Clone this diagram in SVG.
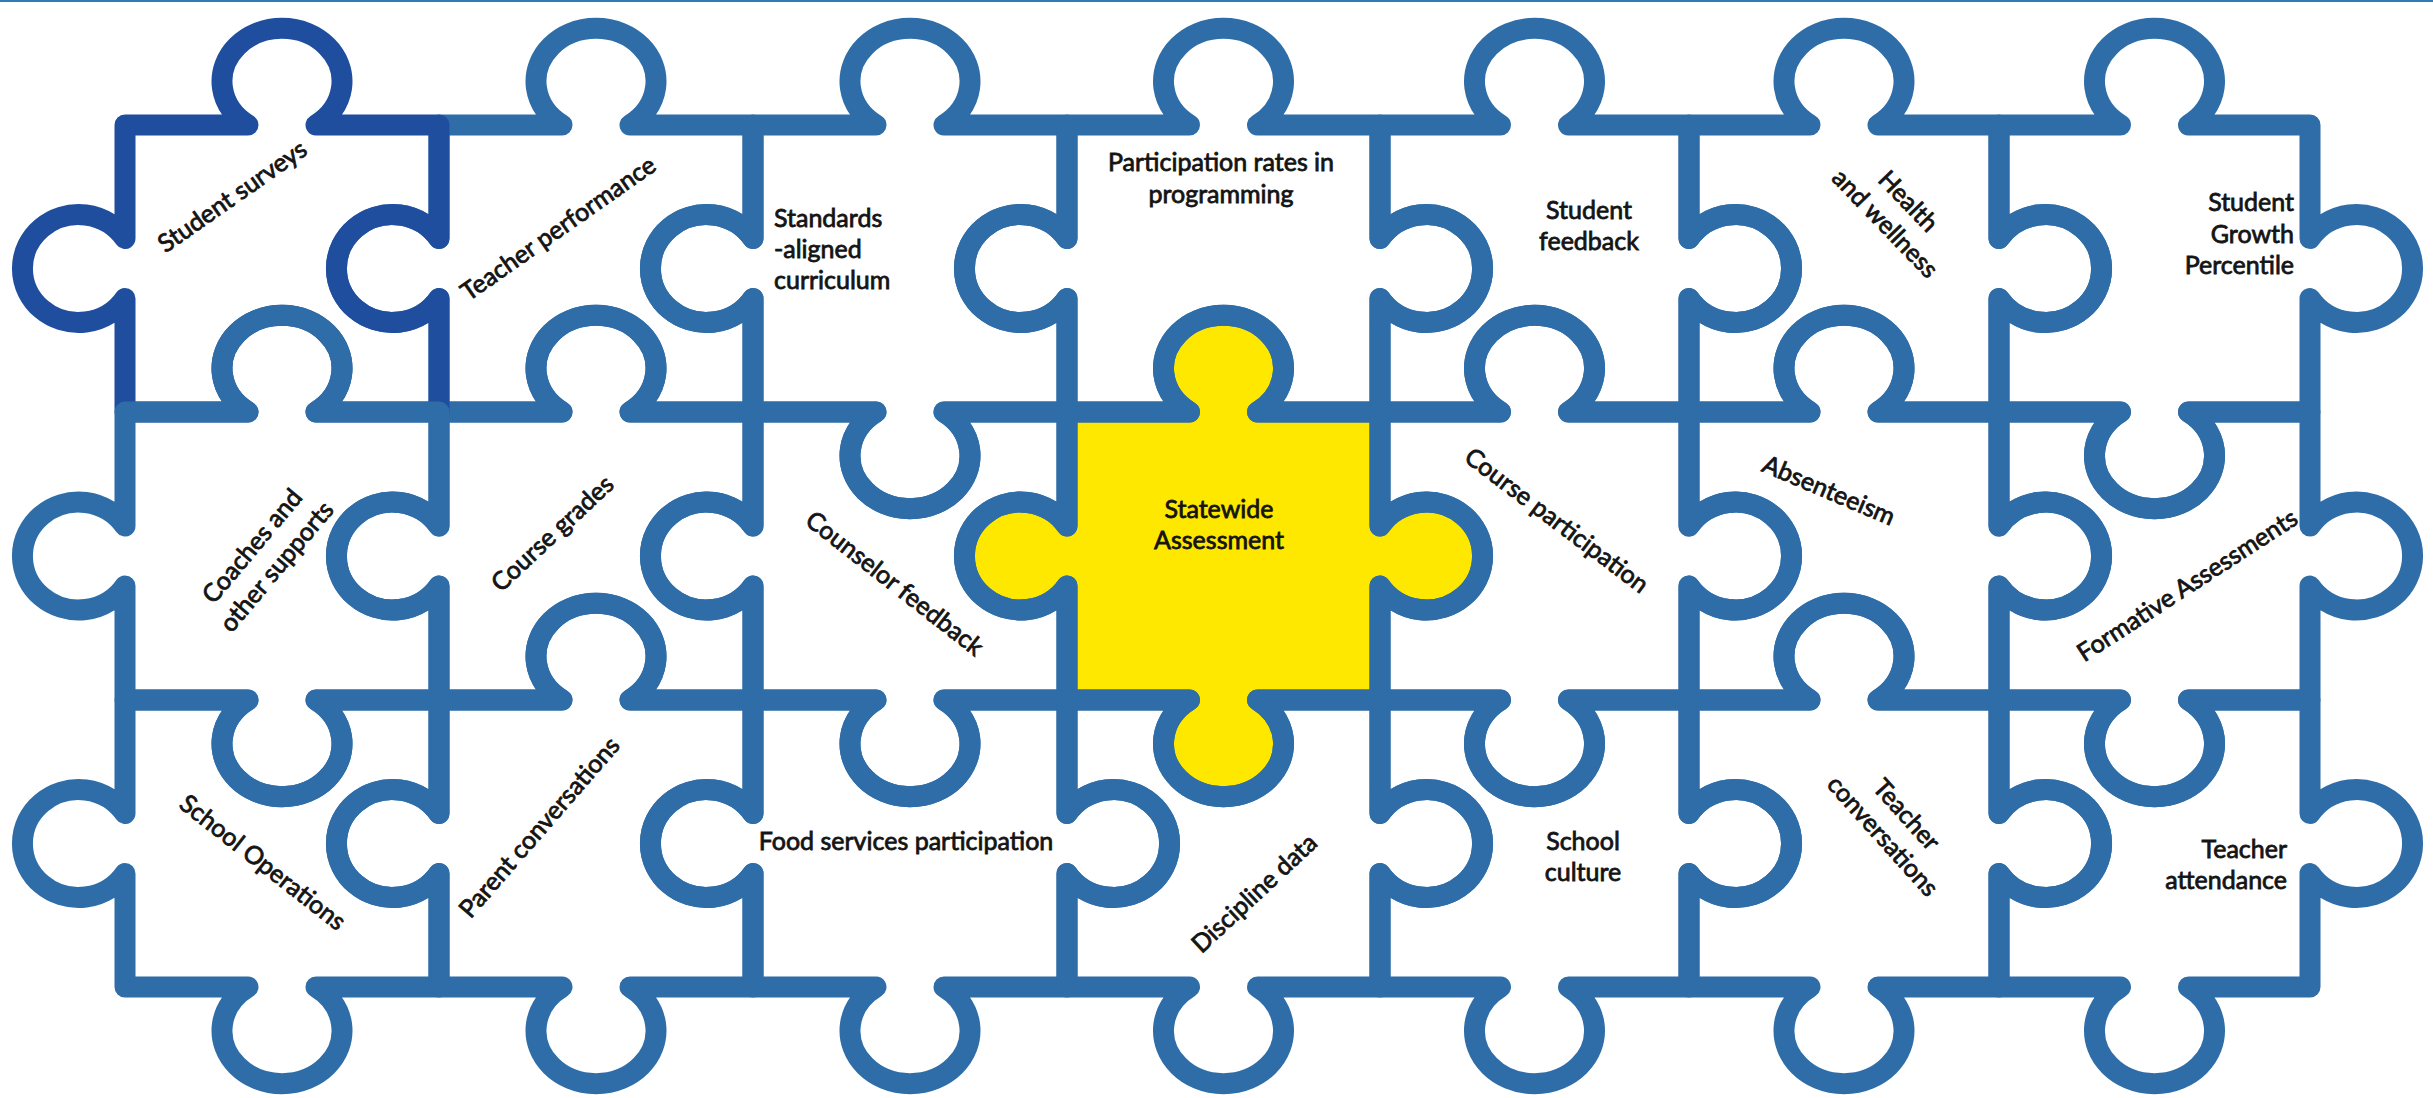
<svg xmlns="http://www.w3.org/2000/svg" width="2433" height="1098" viewBox="0 0 2433 1098">
<style>
.pc{fill:none;stroke:#2E6DA8;stroke-width:21;stroke-linejoin:round;stroke-linecap:round}
.dk{stroke:#1F4E9F}
.yl{fill:#FFE800}
.t{font-family:Lato,"Liberation Sans",sans-serif;font-size:25px;fill:#141414;stroke:#141414;stroke-width:0.8px}
.m{text-anchor:middle}
.e{text-anchor:end}
</style>
<rect x="0" y="0" width="2433" height="1098" fill="#ffffff"/>
<rect x="0" y="0" width="2433" height="2" fill="#2E7BB8"/>
<g id="connectors"></g>
<g id="n-statewide">
<path class="pc yl" d="M1067 412 H1189.5 A60 53 0 1 1 1257.5 412 H1380 V526 A56 54 0 1 1 1380 586 V700 H1257.5 A60 53 0 1 1 1189.5 700 H1067 V586 A56 54 0 1 1 1067 526 Z"/>
<text class="t m" x="1219" y="518">Statewide</text>
<text class="t m" x="1219" y="549">Assessment</text>
</g>
<g id="n-teacher-performance">
<path class="pc" d="M439 125 H562 A60 53 0 1 1 630 125 H753 V238.5 A56 54 0 1 0 753 298.5 V412 H630 A60 53 0 1 0 562 412 H439 V298.5 A56 54 0 1 1 439 238.5 Z"/>
<text class="t m" transform="translate(558,228) rotate(-35)" x="0" y="9">Teacher performance</text>
</g>
<g id="n-standards">
<path class="pc" d="M753 125 H876 A60 53 0 1 1 944 125 H1067 V238.5 A56 54 0 1 0 1067 298.5 V412 H944 A60 53 0 1 1 876 412 H753 V298.5 A56 54 0 1 1 753 238.5 Z"/>
<text class="t" x="774" y="227">Standards</text>
<text class="t" x="774" y="258">-aligned</text>
<text class="t" x="774" y="289">curriculum</text>
</g>
<g id="n-participation">
<path class="pc" d="M1067 125 H1189.5 A60 53 0 1 1 1257.5 125 H1380 V238.5 A56 54 0 1 1 1380 298.5 V412 H1257.5 A60 53 0 1 0 1189.5 412 H1067 V298.5 A56 54 0 1 1 1067 238.5 Z"/>
<text class="t m" x="1221" y="171">Participation rates in</text>
<text class="t m" x="1221" y="203">programming</text>
</g>
<g id="n-student-feedback">
<path class="pc" d="M1380 125 H1500.5 A60 53 0 1 1 1568.5 125 H1689 V238.5 A56 54 0 1 1 1689 298.5 V412 H1568.5 A60 53 0 1 0 1500.5 412 H1380 V298.5 A56 54 0 1 0 1380 238.5 Z"/>
<text class="t m" x="1589" y="219">Student</text>
<text class="t m" x="1589" y="250">feedback</text>
</g>
<g id="n-health">
<path class="pc" d="M1689 125 H1810 A60 53 0 1 1 1878 125 H1999 V238.5 A56 54 0 1 1 1999 298.5 V412 H1878 A60 53 0 1 0 1810 412 H1689 V298.5 A56 54 0 1 0 1689 238.5 Z"/>
<g transform="translate(1897,212) rotate(46)">
<text class="t m" x="0" y="-7">Health</text>
<text class="t m" x="0" y="25">and wellness</text>
</g>
</g>
<g id="n-sgp">
<path class="pc" d="M1999 125 H2120.5 A60 53 0 1 1 2188.5 125 H2310 V238.5 A56 54 0 1 1 2310 298.5 V412 H2188.5 A60 53 0 1 1 2120.5 412 H1999 V298.5 A56 54 0 1 0 1999 238.5 Z"/>
<text class="t e" x="2294" y="211">Student</text>
<text class="t e" x="2294" y="243">Growth</text>
<text class="t e" x="2294" y="274">Percentile</text>
</g>
<g id="n-course-grades">
<path class="pc" d="M439 412 H562 A60 53 0 1 1 630 412 H753 V526 A56 54 0 1 0 753 586 V700 H630 A60 53 0 1 0 562 700 H439 V586 A56 54 0 1 1 439 526 Z"/>
<text class="t m" transform="translate(552,533) rotate(-43)" x="0" y="9">Course grades</text>
</g>
<g id="n-counselor">
<path class="pc" d="M753 412 H876 A60 53 0 1 0 944 412 H1067 V526 A56 54 0 1 0 1067 586 V700 H944 A60 53 0 1 1 876 700 H753 V586 A56 54 0 1 1 753 526 Z"/>
<text class="t m" transform="translate(895,583) rotate(38)" x="0" y="9">Counselor feedback</text>
</g>
<g id="n-course-participation">
<path class="pc" d="M1380 412 H1500.5 A60 53 0 1 1 1568.5 412 H1689 V526 A56 54 0 1 1 1689 586 V700 H1568.5 A60 53 0 1 1 1500.5 700 H1380 V586 A56 54 0 1 0 1380 526 Z"/>
<text class="t m" transform="translate(1557,520) rotate(37)" x="0" y="9">Course participation</text>
</g>
<g id="n-absenteeism">
<path class="pc" d="M1689 412 H1810 A60 53 0 1 1 1878 412 H1999 V526 A56 54 0 1 1 1999 586 V700 H1878 A60 53 0 1 0 1810 700 H1689 V586 A56 54 0 1 0 1689 526 Z"/>
<text class="t m" transform="translate(1829,490) rotate(23)" x="0" y="9">Absenteeism</text>
</g>
<g id="n-formative">
<path class="pc" d="M1999 412 H2120.5 A60 53 0 1 0 2188.5 412 H2310 V526 A56 54 0 1 1 2310 586 V700 H2188.5 A60 53 0 1 1 2120.5 700 H1999 V586 A56 54 0 1 0 1999 526 Z"/>
<text class="t m" transform="translate(2187,585) rotate(-33)" x="0" y="9">Formative Assessments</text>
</g>
<g id="n-school-operations">
<path class="pc" d="M125 700 H248 A60 53 0 1 0 316 700 H439 V813.5 A56 54 0 1 0 439 873.5 V987 H316 A60 53 0 1 1 248 987 H125 V873.5 A56 54 0 1 1 125 813.5 Z"/>
<text class="t m" transform="translate(263,862) rotate(38)" x="0" y="9">School Operations</text>
</g>
<g id="n-parent">
<path class="pc" d="M439 700 H562 A60 53 0 1 1 630 700 H753 V813.5 A56 54 0 1 0 753 873.5 V987 H630 A60 53 0 1 1 562 987 H439 V873.5 A56 54 0 1 1 439 813.5 Z"/>
<text class="t m" transform="translate(539,827) rotate(-49)" x="0" y="9">Parent conversations</text>
</g>
<g id="n-food">
<path class="pc" d="M753 700 H876 A60 53 0 1 0 944 700 H1067 V813.5 A56 54 0 1 1 1067 873.5 V987 H944 A60 53 0 1 1 876 987 H753 V873.5 A56 54 0 1 1 753 813.5 Z"/>
<text class="t m" x="906" y="850">Food services participation</text>
</g>
<g id="n-discipline">
<path class="pc" d="M1067 700 H1189.5 A60 53 0 1 0 1257.5 700 H1380 V813.5 A56 54 0 1 1 1380 873.5 V987 H1257.5 A60 53 0 1 1 1189.5 987 H1067 V873.5 A56 54 0 1 0 1067 813.5 Z"/>
<text class="t m" transform="translate(1254,893) rotate(-43)" x="0" y="9">Discipline data</text>
</g>
<g id="n-school-culture">
<path class="pc" d="M1380 700 H1500.5 A60 53 0 1 0 1568.5 700 H1689 V813.5 A56 54 0 1 1 1689 873.5 V987 H1568.5 A60 53 0 1 1 1500.5 987 H1380 V873.5 A56 54 0 1 0 1380 813.5 Z"/>
<text class="t m" x="1583" y="850">School</text>
<text class="t m" x="1583" y="881">culture</text>
</g>
<g id="n-teacher-conversations">
<path class="pc" d="M1689 700 H1810 A60 53 0 1 1 1878 700 H1999 V813.5 A56 54 0 1 1 1999 873.5 V987 H1878 A60 53 0 1 1 1810 987 H1689 V873.5 A56 54 0 1 0 1689 813.5 Z"/>
<g transform="translate(1895,825) rotate(48)">
<text class="t m" x="0" y="-7">Teacher</text>
<text class="t m" x="0" y="25">conversations</text>
</g>
</g>
<g id="n-teacher-attendance">
<path class="pc" d="M1999 700 H2120.5 A60 53 0 1 0 2188.5 700 H2310 V813.5 A56 54 0 1 1 2310 873.5 V987 H2188.5 A60 53 0 1 1 2120.5 987 H1999 V873.5 A56 54 0 1 0 1999 813.5 Z"/>
<text class="t e" x="2287" y="858">Teacher</text>
<text class="t e" x="2287" y="889">attendance</text>
</g>
<g id="n-student-surveys">
<path class="pc dk" d="M125 125 H248 A60 53 0 1 1 316 125 H439 V238.5 A56 54 0 1 0 439 298.5 V412 H316 A60 53 0 1 0 248 412 H125 V298.5 A56 54 0 1 1 125 238.5 Z"/>
<text class="t m" transform="translate(232,196) rotate(-35)" x="0" y="9">Student surveys</text>
</g>
<g id="n-coaches">
<path class="pc" d="M125 412 H248 A60 53 0 1 1 316 412 H439 V526 A56 54 0 1 0 439 586 V700 H316 A60 53 0 1 1 248 700 H125 V586 A56 54 0 1 1 125 526 Z"/>
<g transform="translate(264,556) rotate(-50)">
<text class="t m" x="0" y="-7">Coaches and</text>
<text class="t m" x="0" y="25">other supports</text>
</g>
</g>
</svg>
